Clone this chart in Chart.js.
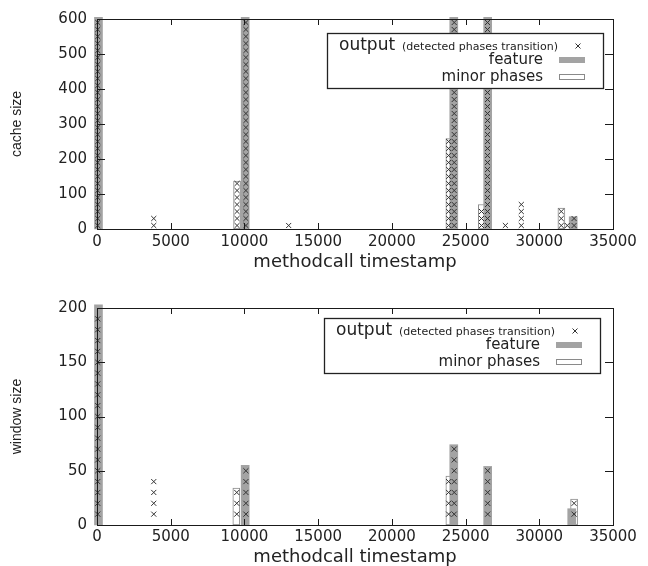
<!DOCTYPE html>
<html>
<head>
<meta charset="utf-8">
<title>cache size / window size</title>
<script src="https://cdn.jsdelivr.net/npm/chart.js@4.4.1/dist/chart.umd.min.js"></script>
<style>
    html, body { margin: 0; padding: 0; background: #fff; }
    #wrap { position: relative; width: 648px; height: 566px; }
    .box { position: absolute; left: 0; width: 648px; height: 283px; }
    #box1 { top: 0; }
    #box2 { top: 283px; }
</style>
</head>
<body>
<div id="wrap">
    <div class="box" id="box1"><canvas id="cacheChart" width="648" height="283"></canvas></div>
    <div class="box" id="box2"><canvas id="windowChart" width="648" height="283"></canvas></div>
</div>
<script>
// shared x axis
const xTicks = [0, 5000, 10000, 15000, 20000, 25000, 30000, 35000];
const xTitle = 'methodcall timestamp';
const legendLabels = ['output', '(detected phases transition)', 'feature', 'minor phases'];

// ---- top chart: cache size ----
const yTicks1 = [0, 100, 200, 300, 400, 500, 600];
const featureX1 = [100, 10050, 24200, 26500, 32300];
const featureY1 = [605, 605, 605, 605, 35];
const minorX1 = [9500, 23900, 26100, 31500];
const minorY1 = [137, 258, 70, 60];
// output marks sit on fixed levels; each column uses the first N levels
const outLevels1 = [10, 30, 50, 70, 90, 110, 130, 150, 170, 190, 210, 230, 250, 270, 290,
                    310, 330, 350, 370, 390, 410, 430, 450, 470, 490, 510, 530, 550, 570, 590];
const outColX1 = [50, 3850, 9500, 10100, 13000, 23850, 24230, 26080, 26490, 27700, 28780, 31490, 31900, 32360];
const outColN1 = [30, 2, 7, 30, 1, 13, 30, 3, 30, 1, 4, 3, 1, 2];

// ---- bottom chart: window size ----
const yTicks2 = [0, 50, 100, 150, 200];
const featureX2 = [100, 10050, 24200, 26500, 32200];
const featureY2 = [203, 55, 74, 54, 15];
const minorX2 = [9450, 23900, 32360];
const minorY2 = [34, 45, 24];
const outLevels2 = [10, 20, 30, 40, 50, 60, 70, 80, 90, 100, 110, 120, 130, 140, 150, 160, 170, 180, 190, 200];
const outColX2 = [50, 3850, 9480, 10100, 23850, 24230, 26500, 32360];
const outColN2 = [19, 4, 3, 5, 4, 7, 5, 2];

function toPoints(xs, ys) {
    return xs.map((x, i) => ({ x: x, y: ys[i] }));
}

function columnPoints(colX, colN, levels) {
    const pts = [];
    colX.forEach((x, i) => {
        levels.slice(0, colN[i]).forEach(y => pts.push({ x: x, y: y }));
    });
    return pts;
}

// gnuplot style border with inward ticks on all four sides
const gnuFrame = {
    id: 'gnuFrame',
    afterDatasetsDraw(chart) {
        const { ctx, chartArea: a, scales } = chart;
        ctx.save();
        ctx.strokeStyle = '#1a1a1a';
        ctx.lineWidth = 1;
        ctx.strokeRect(Math.round(a.left) + 0.5, Math.round(a.top) + 0.5,
                       Math.round(a.right - a.left), Math.round(a.bottom - a.top));
        ctx.beginPath();
        scales.x.ticks.forEach(t => {
            const px = Math.round(scales.x.getPixelForValue(t.value)) + 0.5;
            ctx.moveTo(px, a.bottom); ctx.lineTo(px, a.bottom - 6);
            ctx.moveTo(px, a.top); ctx.lineTo(px, a.top + 6);
        });
        scales.y.ticks.forEach(t => {
            const py = Math.round(scales.y.getPixelForValue(t.value)) + 0.5;
            ctx.moveTo(a.left, py); ctx.lineTo(a.left + 8, py);
            ctx.moveTo(a.right, py); ctx.lineTo(a.right - 8, py);
        });
        ctx.stroke();
        ctx.restore();
    }
};

// boxed key like the gnuplot one
const phaseLegend = {
    id: 'phaseLegend',
    afterDraw(chart, args, opts) {
        const ctx = chart.ctx;
        const a = chart.chartArea;
        const w = 276, h = 55;
        const right = a.right - opts.right;
        const top = a.top + opts.top;
        const left = right - w;
        ctx.save();
        ctx.fillStyle = '#fff';
        ctx.fillRect(left, top, w, h);
        ctx.strokeStyle = '#222';
        ctx.lineWidth = 1.3;
        ctx.strokeRect(left + 0.5, top + 0.5, w, h);

        ctx.fillStyle = '#222';
        ctx.textBaseline = 'middle';
        // row 1
        ctx.textAlign = 'left';
        ctx.font = '17px "DejaVu Sans"';
        ctx.fillText(legendLabels[0], left + 12, top + 13);
        const w0 = ctx.measureText(legendLabels[0]).width;
        ctx.font = '11px "DejaVu Sans"';
        ctx.fillText(legendLabels[1], left + 12 + w0 + 7, top + 14);
        const mx = right - 25, my = top + 13;
        ctx.strokeStyle = '#333';
        ctx.lineWidth = 1;
        ctx.beginPath();
        ctx.moveTo(mx - 2.5, my - 2.5); ctx.lineTo(mx + 2.5, my + 2.5);
        ctx.moveTo(mx - 2.5, my + 2.5); ctx.lineTo(mx + 2.5, my - 2.5);
        ctx.stroke();
        // rows 2 and 3
        ctx.textAlign = 'right';
        ctx.font = '15px "DejaVu Sans"';
        ctx.fillText(legendLabels[2], right - 60, top + 27);
        ctx.fillText(legendLabels[3], right - 60, top + 44);
        ctx.fillStyle = '#a3a3a3';
        ctx.fillRect(right - 44, top + 24, 26, 6);
        ctx.fillStyle = '#fff';
        ctx.fillRect(right - 44, top + 41.5, 26, 5);
        ctx.strokeStyle = '#8a8a8a';
        ctx.strokeRect(right - 43.5, top + 41.5, 25, 5);
        ctx.restore();
    }
};

function makeChart(canvasId, cfg) {
    return new Chart(document.getElementById(canvasId), {
        type: 'bar',
        data: {
            datasets: [
                {
                    type: 'line',
                    label: legendLabels[0],
                    data: cfg.output,
                    showLine: false,
                    pointStyle: 'crossRot',
                    pointRadius: 3.6,
                    pointBorderWidth: 1,
                    pointBorderColor: '#333',
                    order: 1,
                    clip: false
                },
                {
                    label: legendLabels[2],
                    data: cfg.feature,
                    backgroundColor: '#a3a3a3',
                    borderWidth: 0,
                    barThickness: 8,
                    grouped: false,
                    order: 2,
                    clip: false
                },
                {
                    label: legendLabels[3],
                    data: cfg.minor,
                    backgroundColor: '#ffffff',
                    borderColor: '#8a8a8a',
                    borderWidth: 1,
                    borderSkipped: false,
                    barThickness: 7,
                    grouped: false,
                    order: 3,
                    clip: false
                }
            ]
        },
        options: {
            responsive: false,
            animation: false,
            events: [],
            layout: { padding: { left: 0, right: 35, top: cfg.padTop, bottom: 0 } },
            plugins: {
                legend: { display: false },
                tooltip: { enabled: false },
                phaseLegend: cfg.legendPos
            },
            scales: {
                x: {
                    type: 'linear',
                    offset: false,
                    min: 0,
                    max: 35000,
                    grid: { display: false, drawTicks: false },
                    border: { display: false },
                    afterBuildTicks: s => { s.ticks = xTicks.map(v => ({ value: v })); },
                    afterFit: s => { s.height = cfg.xHeight; },
                    ticks: {
                        padding: cfg.xTickPad,
                        color: '#222',
                        font: { family: 'DejaVu Sans', size: 15 },
                        callback: v => String(v)
                    },
                    title: {
                        display: true,
                        text: xTitle,
                        color: '#222',
                        font: { family: 'DejaVu Sans', size: 18, lineHeight: 1 },
                        padding: { top: 0, bottom: cfg.xTitlePad }
                    }
                },
                y: {
                    type: 'linear',
                    min: 0,
                    max: cfg.yTicks[cfg.yTicks.length - 1],
                    grid: { display: false, drawTicks: false },
                    border: { display: false },
                    afterBuildTicks: s => { s.ticks = cfg.yTicks.map(v => ({ value: v })); },
                    afterFit: s => { s.width = 97; },
                    ticks: {
                        padding: 10,
                        color: '#222',
                        font: { family: 'DejaVu Sans', size: 15 },
                        callback: v => String(v)
                    },
                    title: {
                        display: true,
                        text: cfg.yTitle,
                        color: '#222',
                        font: { family: 'Liberation Sans', size: 14 },
                        padding: { top: 9, bottom: 0 }
                    }
                }
            }
        },
        plugins: [gnuFrame, phaseLegend]
    });
}

makeChart('cacheChart', {
    output: columnPoints(outColX1, outColN1, outLevels1),
    feature: toPoints(featureX1, featureY1),
    minor: toPoints(minorX1, minorY1),
    yTicks: yTicks1,
    yTitle: 'cache size',
    padTop: 13,
    xHeight: 54,
    xTickPad: 4,
    xTitlePad: 12,
    legendPos: { right: 10, top: 14 }
});

makeChart('windowChart', {
    output: columnPoints(outColX2, outColN2, outLevels2),
    feature: toPoints(featureX2, featureY2),
    minor: toPoints(minorX2, minorY2),
    yTicks: yTicks2,
    yTitle: 'window size',
    padTop: 25,
    xHeight: 41,
    xTickPad: 3,
    xTitlePad: 0,
    legendPos: { right: 13, top: 10 }
});
</script>
</body>
</html>
